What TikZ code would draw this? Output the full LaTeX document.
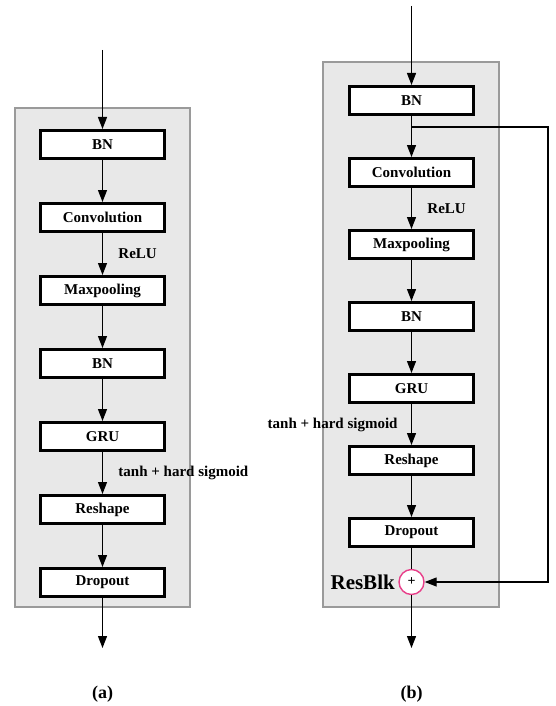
\documentclass[tikz,border=0pt]{standalone}
\usepackage{fontspec}
\setmainfont{Liberation Serif}
\usetikzlibrary{positioning,arrows.meta}
\definecolor{panelfill}{HTML}{E8E8E8}
\definecolor{panelline}{HTML}{9A9A9A}
\definecolor{addline}{HTML}{E8408A}

\begin{document}
\begin{tikzpicture}[x=1pt,y=-1pt,font=\fontsize{15}{18}\selectfont\bfseries,
  layer/.style={draw,line width=3pt,fill=white,minimum width=124pt,minimum height=28pt,inner sep=0pt},
  flow/.style={-{Triangle[length=12pt,width=9pt]},line width=1.3pt},
  panel/.style={draw=panelline,line width=2.5pt,fill=panelfill},
  big/.style={font=\fontsize{21}{24}\selectfont\bfseries},
  caption/.style={font=\fontsize{18}{21}\selectfont\bfseries}]

\useasboundingbox (0,0) rectangle (555,706);

% (a)
\draw[panel] (15,108) rectangle (190,607);
\begin{scope}[node distance=42pt]
\node[layer] (a1) at (102.5,144.5) {BN};
\node[layer,below=of a1] (a2) {Convolution};
\node[layer,below=of a2] (a3) {Maxpooling};
\node[layer,below=of a3] (a4) {BN};
\node[layer,below=of a4] (a5) {GRU};
\node[layer,below=of a5] (a6) {Reshape};
\node[layer,below=of a6] (a7) {Dropout};
\end{scope}
\coordinate (ina) at (102.5,50);
\coordinate (outa) at (102.5,648);
\draw[flow] (ina) -- (a1);
\foreach \u/\v in {a1/a2,a3/a4,a4/a5,a6/a7}{
\draw[flow] (\u) -- (\v);}
\draw[flow] (a2) -- node[right=12pt] {ReLU} (a3);
\draw[flow] (a5) -- node[right=12pt] {tanh + hard sigmoid} (a6);
\draw[flow] (a7) -- (outa);
\node[caption] (capa) at (102.5,694) {(a)};

% (b)
\draw[panel] (323,62) rectangle (499,607);
\begin{scope}[node distance=41pt]
\node[layer] (b1) at (411.5,100.5) {BN};
\node[layer,below=of b1] (b2) {Convolution};
\node[layer,below=of b2] (b3) {Maxpooling};
\node[layer,below=of b3] (b4) {BN};
\node[layer,below=of b4] (b5) {GRU};
\node[layer,below=of b5] (b6) {Reshape};
\node[layer,below=of b6] (b7) {Dropout};
\end{scope}
\node[circle,draw=addline,line width=1.4pt,fill=white,minimum size=25pt,inner sep=0pt,
  font=\fontsize{14}{16}\selectfont\bfseries] (add) at (411.5,582) {+};
\node[big,left=0pt of add] (resblk) {ResBlk};
\coordinate (inb) at (411.5,6);
\coordinate (outb) at (411.5,648);
\coordinate (fork) at (411.5,127);
\coordinate (corner) at (548,127);
\draw[flow] (inb) -- (b1);
\foreach \u/\v in {b1/b2,b3/b4,b4/b5,b6/b7}{
\draw[flow] (\u) -- (\v);}
\draw[flow] (b2) -- node[right=12pt] {ReLU} (b3);
\draw[flow] (b5) -- node[left=10pt] {tanh + hard sigmoid} (b6);
\draw[line width=1.3pt] (b7) -- (add);
\draw[flow] (add) -- (outb);
\draw[flow] (fork) -- (corner) |- (add);
\node[caption] (capb) at (411.5,694) {(b)};

\end{tikzpicture}
\end{document}
